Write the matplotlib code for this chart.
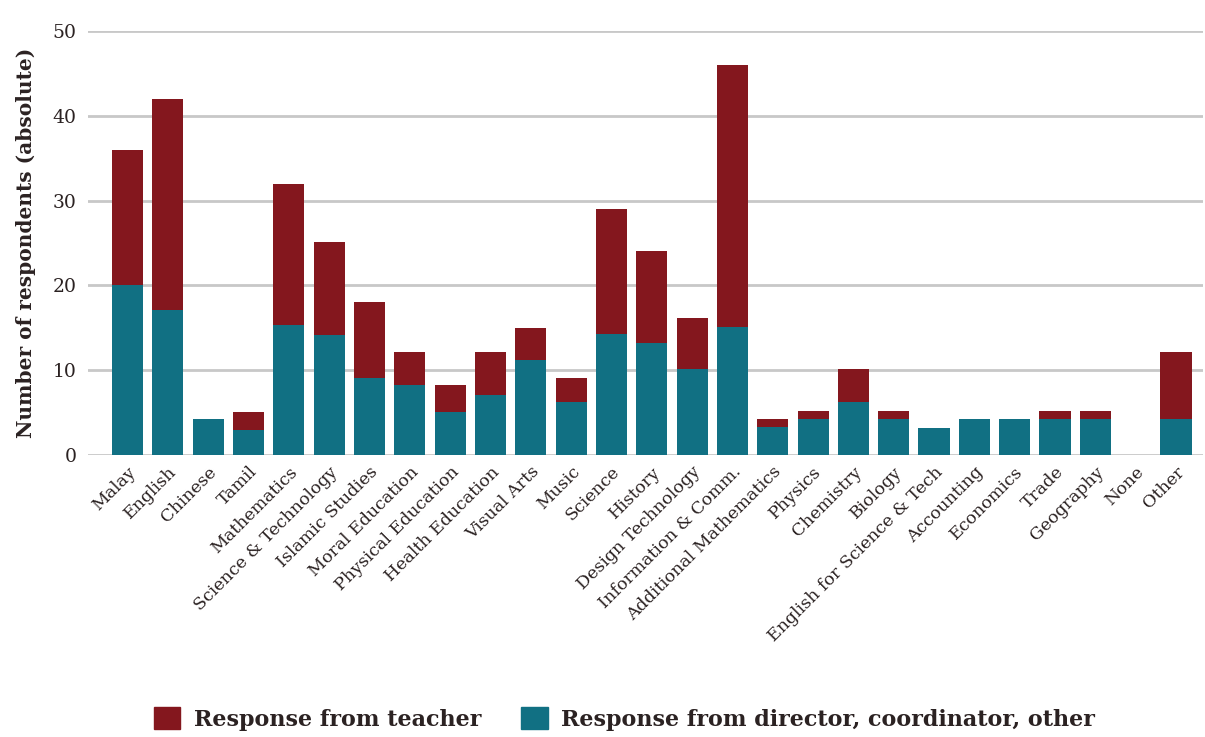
import matplotlib
matplotlib.use("Agg")
import matplotlib.pyplot as plt
from matplotlib.patches import Patch
import numpy as np

subjects = ["Malay", "English", "Chinese", "Tamil", "Mathematics", "Science & Technology",
            "Islamic Studies", "Moral Education", "Physical Education", "Health Education",
            "Visual Arts", "Music", "Science", "History", "Design Technology",
            "Information & Comm.", "Additional Mathematics", "Physics", "Chemistry", "Biology",
            "English for Science & Tech", "Accounting", "Economics", "Trade", "Geography",
            "None", "Other"]

# director / coordinator / other (bottom segment)
director = [20, 17.1, 4.3, 3.0, 15.3, 14.2, 9.1, 8.2, 5.1, 7.1,
            11.2, 6.2, 14.3, 13.2, 10.1, 15.1, 3.3, 4.3, 6.2, 4.3,
            3.2, 4.3, 4.2, 4.2, 4.3, 0, 4.3]
# total bar height
total = [36, 42, 4.3, 5.1, 32, 25.1, 18.1, 12.2, 8.2, 12.2,
         15.0, 9.1, 29.0, 24.1, 16.2, 46.0, 4.3, 5.2, 10.2, 5.2,
         3.2, 4.3, 4.2, 5.2, 5.2, 0, 12.2]

teacher_col = "#84171e"
director_col = "#117083"
text_col = "#2b2222"

director = np.array(director)
teacher = np.array(total) - director
x = np.arange(len(subjects))

fig = plt.figure(figsize=(12.05, 7.37), dpi=100)
ax = fig.add_axes([0.073, 0.3826, 0.925, 0.5754])

ax.bar(x, director, width=0.77, color=director_col, zorder=3)
ax.bar(x, teacher, width=0.77, bottom=director, color=teacher_col, zorder=3)

ax.set_xlim(-0.98, 26.66)
ax.set_ylim(0, 50)
ax.set_yticks([0, 10, 20, 30, 40, 50])
ax.yaxis.grid(True, color="#c8c8c8", linewidth=2, zorder=0)
ax.set_axisbelow(True)
for s in ax.spines.values():
    s.set_visible(False)
ax.tick_params(axis="both", length=0, colors=text_col)
ax.tick_params(axis="y", pad=8)
ax.tick_params(axis="x", pad=6)

ax.set_xticks(x)
ax.set_xticklabels(subjects, rotation=45, ha="right", rotation_mode="anchor",
                   family="DejaVu Serif", fontsize=12.5, color=text_col)
for lbl in ax.get_yticklabels():
    lbl.set_family("DejaVu Serif")
    lbl.set_fontsize(13.5)

ax.set_ylabel("Number of respondents (absolute)", family="DejaVu Serif",
              fontweight="bold", fontsize=14.5, color=text_col, labelpad=12)

handles = [Patch(color=teacher_col, label="Response from teacher"),
           Patch(color=director_col, label="Response from director, coordinator, other")]
fig.legend(handles=handles, loc="center", bbox_to_anchor=(0.518, 0.025), ncol=2,
           frameon=False, prop={"family": "DejaVu Serif", "weight": "bold", "size": 16},
           handlelength=1.2, handleheight=1.2, columnspacing=1.8, handletextpad=0.6,
           labelcolor=text_col)

fig.savefig("out.png", dpi=100)
